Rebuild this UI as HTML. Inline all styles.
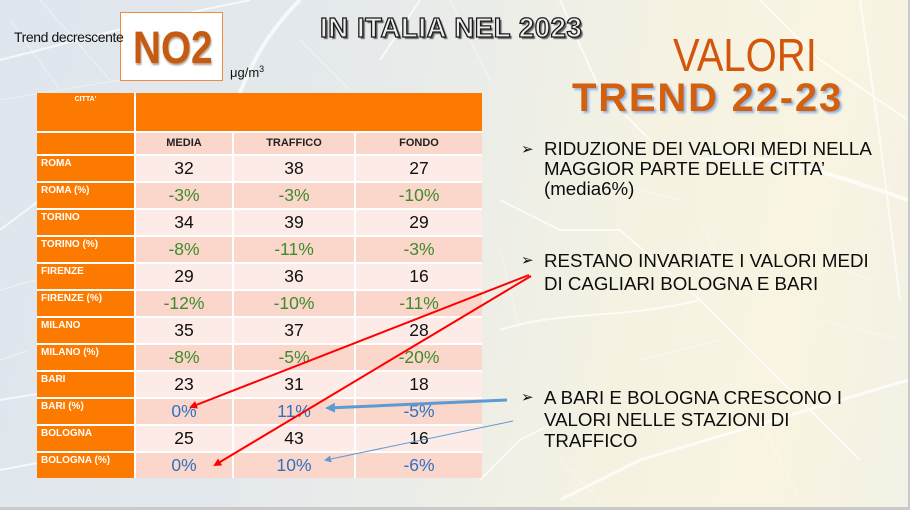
<!DOCTYPE html>
<html><head><meta charset="utf-8">
<style>
html,body{margin:0;padding:0;}
body{width:910px;height:510px;background:#c9c9c9;position:relative;overflow:hidden;font-family:"Liberation Sans",Arial,sans-serif;}
#slide{position:absolute;left:0;top:0;width:908px;height:507px;overflow:hidden;
background:linear-gradient(100deg,#dfe6ed 0%,#e3e8ec 30%,#ebede8 50%,#f5f2e2 68%,#f8f4e1 85%,#f3f1e6 100%);}
.abs{position:absolute;white-space:nowrap;}
.tbl{position:absolute;left:37px;top:93px;display:grid;grid-template-columns:97px 96px 120px 126px;grid-template-rows:38px 21px repeat(12,25px);gap:2px;background:#fff;border:0;}
.tbl div{overflow:hidden;}
.o{background:#fd7a00;color:#fff;font-weight:bold;font-size:10px;line-height:12px;padding:2px 0 0 4px;box-sizing:border-box;}
.hd{background:#fbd6cb;color:#222;font-weight:bold;font-size:11px;text-align:center;line-height:21px;}
.l{background:#fdebe7;}
.d{background:#fbd6cb;}
.n{font-size:17.5px;text-align:center;line-height:25px;color:#111;}
.g{color:#3f8b2c;}
.b{color:#2f72c0;}
.bul{position:absolute;left:544px;font-size:18.7px;color:#0d0d0d;white-space:nowrap;}
.ar{position:absolute;left:-23px;font-family:"DejaVu Sans",sans-serif;font-size:15px;font-weight:bold;}
</style></head><body>
<div id="slide">
<svg class="abs" style="left:0;top:0" width="908" height="507">
<g stroke="#ffffff" stroke-opacity="0.7" fill="none" stroke-width="2">
<path d="M0 60 C80 40 150 20 250 0"/>
<path d="M230 120 C250 60 270 30 300 0" stroke-width="4"/>
<path d="M0 230 L40 200 L90 150"/>
<path d="M0 400 C60 390 120 380 200 390"/>
<path d="M0 470 L80 455 L140 460"/>
<path d="M380 60 L420 0"/>
<path d="M560 0 L600 90 L650 140"/>
<path d="M700 160 C760 150 820 170 908 200" stroke-width="4"/>
<path d="M620 230 L700 300 L780 380 L860 460"/>
<path d="M500 330 C560 310 620 320 700 300"/>
<path d="M760 0 L820 60 L908 120"/>
<path d="M560 500 L640 460 L740 430 L908 380" stroke-width="3"/>
<path d="M860 0 L880 140 L900 300"/>
<path d="M500 200 L560 230 L620 230"/>
<path d="M480 480 L520 440 L560 420"/>
</g>
<g stroke="#ffffff" stroke-opacity="0.45" fill="none" stroke-width="1">
<path d="M10 20 L60 90 M40 0 L110 80 M0 100 L120 80 M300 40 L350 90 M450 0 L490 80 M600 180 L680 200 M700 220 L740 300 M800 250 L870 280 M640 360 L720 340 M500 250 L520 330 M560 460 L600 500 M760 420 L800 500 M820 320 L900 340 M0 360 L30 350 M0 290 L35 280"/>
</g>
</svg>

<div class="abs" style="left:120px;top:12px;width:101px;height:67px;background:#fff;border:1px solid #f08a3a;"></div>
<div class="abs" style="left:14px;top:29px;font-size:14px;color:#111;letter-spacing:-0.4px;">Trend decrescente</div>
<div class="abs" style="left:133px;top:25px;font-size:45px;line-height:45px;font-weight:bold;color:#c55a11;transform:scaleX(0.86);transform-origin:0 0;text-shadow:1px 2px 2px rgba(90,40,0,0.45);">NO2</div>
<div class="abs" style="left:230px;top:66px;font-size:13px;line-height:13px;color:#111;">μg/m<sup style="font-size:9px;vertical-align:5px;line-height:0">3</sup></div>

<div class="abs" style="left:320px;top:14px;font-size:27.5px;line-height:27.5px;font-weight:bold;letter-spacing:0.6px;color:#eeeeee;-webkit-text-stroke:1.3px #1a1a1a;text-shadow:2px 2px 1px #666;">IN ITALIA NEL 2023</div>

<div class="abs" style="left:673px;top:32px;font-size:46px;line-height:46px;color:#d2570c;transform:scaleX(0.87);transform-origin:0 0;">VALORI</div>
<div class="abs" style="left:572px;top:78px;font-size:40px;line-height:40px;font-weight:bold;letter-spacing:1.8px;color:#d3600f;text-shadow:2px 2px 2px #8fb3e6;">TREND 22-23</div>

<div class="bul" style="top:139px;line-height:20px;"><span class="ar">➢</span>RIDUZIONE DEI VALORI MEDI NELLA<br>MAGGIOR PARTE DELLE CITTA’<br>(media6%)</div>
<div class="bul" style="top:249px;line-height:23px;"><span class="ar">➢</span>RESTANO INVARIATE I VALORI MEDI<br>DI CAGLIARI BOLOGNA E BARI</div>
<div class="bul" style="top:387px;line-height:21.5px;"><span class="ar">➢</span>A BARI E BOLOGNA CRESCONO I<br>VALORI NELLE STAZIONI DI<br>TRAFFICO</div>

<div class="tbl">
<div class="o" style="font-size:7px;text-align:center;padding:3px 0 0 0;line-height:8px;">CITTA'</div>
<div class="o" style="grid-column:2 / 5;"></div>
<div class="o"></div><div class="hd">MEDIA</div><div class="hd">TRAFFICO</div><div class="hd">FONDO</div>

<div class="o">ROMA</div><div class="l n">32</div><div class="l n">38</div><div class="l n">27</div>
<div class="o">ROMA (%)</div><div class="d n g">-3%</div><div class="d n g">-3%</div><div class="d n g">-10%</div>
<div class="o">TORINO</div><div class="l n">34</div><div class="l n">39</div><div class="l n">29</div>
<div class="o">TORINO (%)</div><div class="d n g">-8%</div><div class="d n g">-11%</div><div class="d n g">-3%</div>
<div class="o">FIRENZE</div><div class="l n">29</div><div class="l n">36</div><div class="l n">16</div>
<div class="o">FIRENZE (%)</div><div class="d n g">-12%</div><div class="d n g">-10%</div><div class="d n g">-11%</div>
<div class="o">MILANO</div><div class="l n">35</div><div class="l n">37</div><div class="l n">28</div>
<div class="o">MILANO (%)</div><div class="d n g">-8%</div><div class="d n g">-5%</div><div class="d n g">-20%</div>
<div class="o">BARI</div><div class="l n">23</div><div class="l n">31</div><div class="l n">18</div>
<div class="o">BARI (%)</div><div class="d n b">0%</div><div class="d n b">11%</div><div class="d n b">-5%</div>
<div class="o">BOLOGNA</div><div class="l n">25</div><div class="l n">43</div><div class="l n">16</div>
<div class="o">BOLOGNA (%)</div><div class="d n b">0%</div><div class="d n b">10%</div><div class="d n b">-6%</div>
</div>

<svg class="abs" style="left:0;top:0" width="908" height="507">
<defs>
<marker id="mr" markerWidth="8" markerHeight="8" refX="6" refY="4" orient="auto" markerUnits="userSpaceOnUse"><path d="M0 0 L8 4 L0 8 Z" fill="#ff0000"/></marker>
<marker id="mb" markerWidth="10" markerHeight="10" refX="7" refY="5" orient="auto" markerUnits="userSpaceOnUse"><path d="M0 0 L10 5 L0 10 Z" fill="#5b9bd5"/></marker>
<marker id="mb2" markerWidth="7" markerHeight="7" refX="5" refY="3.5" orient="auto" markerUnits="userSpaceOnUse"><path d="M0 0 L7 3.5 L0 7 Z" fill="#5b9bd5"/></marker>
</defs>
<line x1="529" y1="275" x2="191" y2="407" stroke="#ff0000" stroke-width="2" marker-end="url(#mr)"/>
<line x1="531" y1="276" x2="215" y2="465" stroke="#ff0000" stroke-width="2" marker-end="url(#mr)"/>
<line x1="507" y1="400" x2="328" y2="408" stroke="#5b9bd5" stroke-width="3" marker-end="url(#mb)"/>
<line x1="513" y1="421" x2="326" y2="460" stroke="#5b9bd5" stroke-width="1" marker-end="url(#mb2)"/>
</svg>
</div>
</body></html>
